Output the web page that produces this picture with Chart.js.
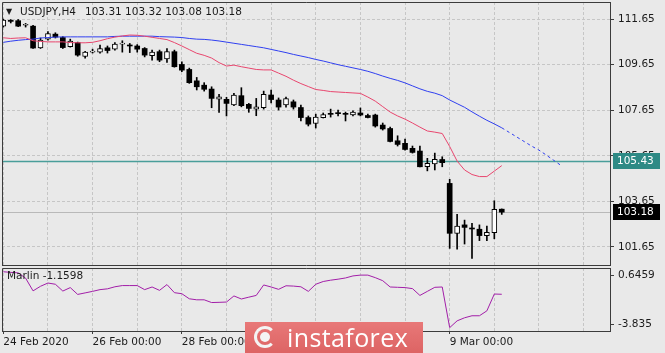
<!DOCTYPE html>
<html>
<head>
<meta charset="utf-8">
<script src="https://cdn.jsdelivr.net/npm/chart.js@4.4.1/dist/chart.umd.min.js"></script>
<style>
    html, body { margin: 0; padding: 0; background: #e9e9e9; }
    #wrap { position: relative; width: 665px; height: 353px; overflow: hidden; background: #e9e9e9; }
    #mainChart { position: absolute; left: 0; top: 0; }
    #indChart { position: absolute; left: 0; top: 267px; }
    #banner {
        position: absolute; left: 245px; top: 322px; width: 178px; height: 34px;
        background: linear-gradient(#e87878, #dc6262);
        color: #fff; font-family: "Open Sans", sans-serif; font-size: 25px; letter-spacing: 0.4px;
    }
    #banner .logo {
        position: absolute; left: 9px; top: 4px; width: 22px; height: 22px;
        border-radius: 50%; border: 3px solid #f4f4f4; border-right-color: transparent;
        box-sizing: border-box;
    }
    #banner .logo2 {
        position: absolute; left: 15px; top: 10px; width: 10px; height: 10px;
        border-radius: 50%; background: #f4f4f4;
    }
    #banner .txt { position: absolute; left: 42px; top: -2px; }
</style>
</head>
<body>
<div id="wrap">
    <canvas id="mainChart" width="665" height="267"></canvas>
    <canvas id="indChart" width="665" height="86"></canvas>
    <div id="banner"><div class="logo"></div><div class="logo2"></div><div class="txt">instaforex</div></div>
</div>
<script>
// USDJPY H4 candles, bar 0 = 24 Feb 2020 00:00
const symbolName = 'USDJPY,H4';
const opens  = [111.34,111.56,111.58,111.38,111.34,110.38,110.77,110.99,110.84,110.44,110.62,110.01,110.20,110.20,110.39,110.33,110.55,110.47,110.47,110.36,
                110.05,110.22,109.90,110.22,109.66,109.44,108.94,108.75,108.58,108.14,108.13,107.88,108.29,107.91,107.70,107.76,108.32,108.10,107.88,108.02,
                107.77,107.33,107.07,107.33,107.48,107.51,107.48,107.44,107.53,107.42,107.44,107.00,106.85,106.31,106.20,105.98,105.86,105.17,105.29,105.49,
                104.44,102.25,102.62,102.48,102.43,102.15,102.28,103.31];
const highs  = [111.65,111.63,111.63,111.46,111.38,110.82,111.10,111.05,110.88,110.77,110.64,110.24,110.33,110.51,110.47,110.62,110.70,110.58,110.53,110.40,
                110.29,110.29,110.36,110.29,109.78,109.50,109.09,108.86,108.68,108.35,108.22,108.39,108.64,107.95,108.17,108.49,108.54,108.19,108.23,108.10,
                107.88,107.40,107.48,107.53,107.70,107.66,107.57,107.62,107.75,107.48,107.48,107.09,106.91,106.53,106.39,106.08,106.08,105.54,105.77,105.61,
                104.62,103.08,102.83,102.69,102.62,102.57,103.68,103.32];
const lows   = [111.30,111.48,111.32,111.30,110.36,110.36,110.73,110.82,110.36,110.42,110.02,109.94,110.16,110.16,110.16,110.29,110.20,110.18,110.20,109.99,
                109.85,109.78,109.75,109.54,109.34,108.83,108.54,108.49,107.76,107.56,107.40,107.85,107.80,107.56,107.41,107.70,107.97,107.66,107.79,107.70,
                107.18,106.96,106.87,107.31,107.35,107.40,107.18,107.40,107.40,107.31,106.91,106.78,106.26,106.08,105.90,105.77,105.16,104.99,105.03,105.17,
                101.59,101.56,101.78,101.15,101.93,101.93,102.01,103.08];
const closes = [111.61,111.55,111.34,111.39,110.38,110.73,111.01,110.86,110.40,110.69,110.07,110.20,110.22,110.36,110.27,110.55,110.56,110.47,110.33,110.07,
                110.20,109.85,110.22,109.56,109.41,108.86,108.68,108.57,108.17,108.24,107.95,108.32,107.85,107.73,107.80,108.35,108.12,107.79,108.16,107.79,
                107.33,107.04,107.35,107.46,107.47,107.50,107.47,107.57,107.44,107.33,106.96,106.83,106.28,106.15,105.93,105.80,105.17,105.32,105.50,105.35,
                102.25,102.57,102.51,102.44,102.15,102.29,103.30,103.18];

// moving averages (red = fast, blue = slow, blue runs 8 bars ahead)
const redMa  = [110.83,110.80,110.82,110.83,110.70,110.67,110.65,110.65,110.65,110.62,110.61,110.61,110.63,110.70,110.79,110.86,110.91,110.95,110.94,110.90,
                110.85,110.80,110.75,110.62,110.47,110.31,110.15,110.06,109.94,109.74,109.59,109.63,109.56,109.50,109.44,109.42,109.42,109.28,109.14,108.97,
                108.82,108.69,108.56,108.52,108.47,108.45,108.43,108.41,108.39,108.23,108.05,107.81,107.57,107.40,107.26,107.09,106.91,106.74,106.69,106.63,
                106.06,105.42,105.03,104.83,104.74,104.74,104.98,105.22];
const blueMa = [110.63,110.68,110.72,110.75,110.77,110.82,110.84,110.86,110.87,110.87,110.87,110.87,110.87,110.87,110.87,110.89,110.90,110.90,110.90,110.90,
                110.90,110.88,110.87,110.86,110.84,110.80,110.77,110.76,110.73,110.69,110.64,110.59,110.54,110.49,110.44,110.39,110.32,110.25,110.18,110.10,
                110.03,109.96,109.88,109.81,109.73,109.65,109.58,109.51,109.44,109.36,109.26,109.15,109.05,108.96,108.85,108.72,108.59,108.48,108.40,108.29,
                108.10,107.94,107.78,107.58,107.39,107.21,107.05,106.88,106.68,106.48,106.28,106.08,105.90,105.68,105.45,105.22];

// indicator window
const indicatorName = 'Marlin';
const marlin = [0.646,0.597,0.556,0.133,-0.886,-0.519,-0.258,-0.356,-0.902,-0.625,-1.171,-1.049,-0.926,-0.788,-0.723,-0.560,-0.462,-0.462,-0.462,-0.788,
                -0.576,-0.845,-0.381,-1.032,-1.114,-1.521,-1.603,-1.603,-1.823,-1.806,-1.782,-1.293,-1.538,-1.391,-1.252,-0.413,-0.576,-0.764,-0.478,-0.503,
                -0.560,-0.926,-0.356,-0.136,-0.030,0.051,0.149,0.312,0.377,0.377,0.173,-0.071,-0.576,-0.601,-0.625,-0.706,-1.252,-0.926,-0.601,-0.576,
                -3.835,-3.289,-3.045,-2.882,-2.882,-2.489,-1.140,-1.1598];
const indTickValues = [0.377, -3.558];
const indTickLabels = ['0.6459', '-3.835'];

const priceTicks = [111.65, 109.65, 107.65, 105.65, 103.65, 101.65];
const levelPrice = 105.43;
const gridBars = [0, 6, 12, 18, 24, 30, 36, 42, 48, 54, 60, 66, 72, 78];
const dateTickBars = [0, 12, 24, 60];
const dateTickLabels = ['24 Feb 2020', '26 Feb 00:00', '28 Feb 00:00', '9 Mar 00:00'];

const lastBar = closes.length - 1;
const xMin = -0.175, xMax = 81.55;
const FONT = { family: 'DejaVu Sans', size: 10.5 };
const TEXT = '#1b1b1b';
const GRID = '#c6c6c6';

const bulls = [], bears = [], wicks = [];
opens.forEach((o, i) => {
    wicks.push({ x: i, y: [lows[i], highs[i]] });
    if (closes[i] > o) bulls.push({ x: i, y: [o, closes[i]] });
    else bears.push({ x: i, y: [closes[i], o] });
});

const noPad = s => { s.paddingTop = 0; s.paddingBottom = 0; s.paddingLeft = 0; s.paddingRight = 0; };

const framePlugin = {
    id: 'frame',
    afterDraw(chart) {
        const { ctx, chartArea: a } = chart;
        ctx.save();
        ctx.strokeStyle = '#3c3c3c';
        ctx.lineWidth = 1;
        ctx.beginPath();
        ctx.moveTo(a.left + 0.5, a.bottom);
        ctx.lineTo(a.left + 0.5, a.top + 0.5);
        ctx.lineTo(a.right, a.top + 0.5);
        ctx.stroke();
        ctx.restore();
    }
};

const levelsPlugin = {
    id: 'levels',
    beforeDatasetsDraw(chart) {
        const { ctx, chartArea: a, scales: { y } } = chart;
        ctx.save();
        ctx.lineWidth = 1;
        const yb = Math.round(y.getPixelForValue(closes[lastBar])) + 0.5;
        ctx.strokeStyle = '#b9b9b9';
        ctx.beginPath(); ctx.moveTo(a.left, yb); ctx.lineTo(a.right, yb); ctx.stroke();
        const yl = Math.round(y.getPixelForValue(levelPrice)) + 0.5;
        ctx.strokeStyle = '#4a9e9a';
        ctx.lineWidth = 1.5;
        ctx.beginPath(); ctx.moveTo(a.left, yl); ctx.lineTo(a.right, yl); ctx.stroke();
        ctx.restore();
    },
    afterDraw(chart) {
        const { ctx, chartArea: a, scales: { y } } = chart;
        const box = (value, bg) => {
            const py = Math.round(y.getPixelForValue(value));
            ctx.fillStyle = bg;
            ctx.fillRect(a.right + 3, py - 8, 47, 16);
            ctx.fillStyle = '#ffffff';
            ctx.font = '10.5px "DejaVu Sans"';
            ctx.textBaseline = 'middle';
            ctx.textAlign = 'left';
            ctx.fillText(value.toFixed(2), a.right + 7, py);
        };
        ctx.save();
        box(levelPrice, '#2e8a85');
        box(closes[lastBar], '#000000');
        // title line
        ctx.fillStyle = TEXT;
        ctx.textBaseline = 'middle';
        ctx.font = '8px "DejaVu Sans"';
        ctx.fillText('\u25BC', 6, 12);
        ctx.font = '10.5px "DejaVu Sans"';
        ctx.fillText(symbolName, 20, 12);
        const ohlc = [opens[lastBar], highs[lastBar], lows[lastBar], closes[lastBar]].map(v => v.toFixed(2)).join(' ');
        ctx.fillText(ohlc, 85, 12);
        ctx.restore();
    }
};

const indLabelPlugin = {
    id: 'indLabel',
    afterDraw(chart) {
        const { ctx, chartArea: a } = chart;
        ctx.save();
        ctx.fillStyle = TEXT;
        ctx.font = '10.5px "DejaVu Sans"';
        ctx.textBaseline = 'middle';
        ctx.fillText(indicatorName + ' ' + marlin[lastBar].toFixed(4), a.left + 5, a.top + 8);
        ctx.restore();
    }
};

const xGridTicks = (scale) => { scale.ticks = gridBars.map(v => ({ value: v })); };

new Chart(document.getElementById('mainChart'), {
    type: 'bar',
    data: {
        datasets: [
            { type: 'line', data: redMa.map((v, i) => ({ x: i, y: v })), borderColor: '#e8466e', borderWidth: 1, pointRadius: 0, order: 0 },
            { type: 'line', data: blueMa.map((v, i) => ({ x: i, y: v })), borderColor: '#2f3ff0', borderWidth: 1, pointRadius: 0, order: 0,
              segment: { borderDash: c => c.p0DataIndex >= lastBar ? [3, 3] : undefined } },
            { data: bulls, backgroundColor: '#ffffff', borderColor: '#000000', borderWidth: 1, borderSkipped: false,
              barThickness: 5, minBarLength: 1, grouped: false, order: 1 },
            { data: bears, backgroundColor: '#000000', borderWidth: 0, barThickness: 5, minBarLength: 1, grouped: false, order: 1 },
            { data: wicks, backgroundColor: '#000000', borderWidth: 0, barThickness: 1, grouped: false, order: 2 }
        ]
    },
    options: {
        responsive: false,
        animation: false,
        layout: { padding: { left: 2, top: 2, right: 0, bottom: 0 } },
        plugins: { legend: { display: false }, tooltip: { enabled: false } },
        scales: {
            x: {
                type: 'linear', min: xMin, max: xMax, offset: false,
                afterBuildTicks: xGridTicks,
                afterFit: s => { s.height = 2; noPad(s); },
                ticks: { display: false },
                grid: { color: GRID, drawTicks: false, offset: false },
                border: { color: '#3c3c3c', dash: [3, 2] }
            },
            y: {
                position: 'right', min: 100.86, max: 112.40,
                afterBuildTicks: s => { s.ticks = priceTicks.map(v => ({ value: v })); },
                afterFit: s => { s.width = 55; noPad(s); },
                ticks: { color: TEXT, font: FONT, padding: 4, callback: v => v.toFixed(2) },
                grid: { color: GRID, tickLength: 4, tickColor: '#3c3c3c' },
                border: { color: '#3c3c3c', dash: [3, 2] }
            }
        }
    },
    plugins: [framePlugin, levelsPlugin]
});

new Chart(document.getElementById('indChart'), {
    type: 'line',
    data: {
        datasets: [
            { data: marlin.map((v, i) => ({ x: i, y: v })), borderColor: '#a21ea8', borderWidth: 1, pointRadius: 0 }
        ]
    },
    options: {
        responsive: false,
        animation: false,
        layout: { padding: { left: 2, top: 1, right: 0, bottom: 0 } },
        plugins: { legend: { display: false }, tooltip: { enabled: false } },
        scales: {
            x: {
                type: 'linear', min: xMin, max: xMax,
                afterBuildTicks: xGridTicks,
                afterFit: s => { s.height = 22; noPad(s); },
                ticks: {
                    color: TEXT, font: FONT, align: 'start', padding: 2, maxRotation: 0, autoSkip: false,
                    callback: v => { const k = dateTickBars.indexOf(v); return k >= 0 ? dateTickLabels[k] : ''; }
                },
                grid: {
                    color: GRID, tickLength: 3,
                    tickColor: c => (c.tick && dateTickBars.includes(c.tick.value)) ? '#3c3c3c' : 'rgba(0,0,0,0)'
                },
                border: { color: '#3c3c3c', dash: [3, 2] }
            },
            y: {
                position: 'right', min: -4.104, max: 0.947,
                afterBuildTicks: s => { s.ticks = indTickValues.map(v => ({ value: v })); },
                afterFit: s => { s.width = 55; noPad(s); },
                ticks: { color: TEXT, font: FONT, padding: 4, callback: (v, i) => indTickLabels[i] },
                grid: { drawOnChartArea: false, tickLength: 4, tickColor: '#3c3c3c' },
                border: { color: '#3c3c3c' }
            }
        }
    },
    plugins: [framePlugin, indLabelPlugin]
});
</script>
</body>
</html>
